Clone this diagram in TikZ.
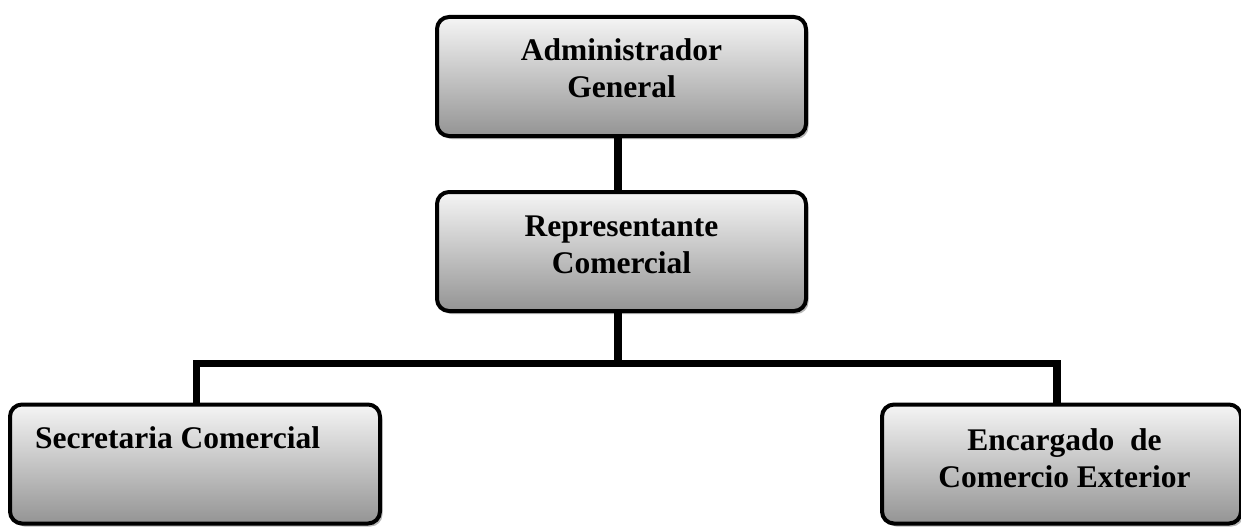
\documentclass[tikz,border=0pt]{standalone}
\usepackage{fontspec}
\setmainfont{Liberation Serif}
\usetikzlibrary{shadows}
\begin{document}
\begin{tikzpicture}[x=1pt,y=-1pt,
  box/.style={draw=black,line width=4pt,rounded corners=12pt,
    top color=white!96!black,bottom color=black!42,
    minimum width=#1,minimum height=119pt,inner sep=0pt,
    drop shadow={shadow xshift=2.5pt,shadow yshift=-3pt,fill=black!28,opacity=1}},
  box/.default=369pt,
  txt/.style={font=\fontsize{31.5}{37}\selectfont\bfseries,align=center,inner sep=0pt},
  conn/.style={line width=7.5pt,line join=miter}]
\useasboundingbox (0,0) rectangle (1241,527);
% helper coordinates
\coordinate (c1) at (618,0);
\coordinate (bus) at (618,363.5);
\coordinate (lx) at (196.5,0);
\coordinate (rx) at (1057,0);
% boxes
\node[box] (adm) at (621.5,76.5) {};
\node[box] (rep) at (621.5,251.5) {};
\node[box=370pt] (sec) at (195,464) {};
\node[box=359pt] (enc) at (1061.5,464) {};
% connectors
\draw[conn] (adm.south -| c1) -- (rep.north -| c1);
\draw[conn] (rep.south -| c1) -- (bus);
\draw[conn] (lx |- sec.north) |- (bus) -| (rx |- enc.north);
% texts
\node[txt] (tadm) at ([yshift=8pt]adm.center) {Administrador\\General};
\node[txt] (trep) at ([yshift=7pt]rep.center) {Representante\\Comercial};
\node[txt,anchor=base west] (tsec) at (35,448) {Secretaria Comercial};
\node[txt] (tenc) at ([xshift=3pt,yshift=6pt]enc.center) {Encargado\ \ de\\Comercio Exterior};
\end{tikzpicture}
\end{document}
